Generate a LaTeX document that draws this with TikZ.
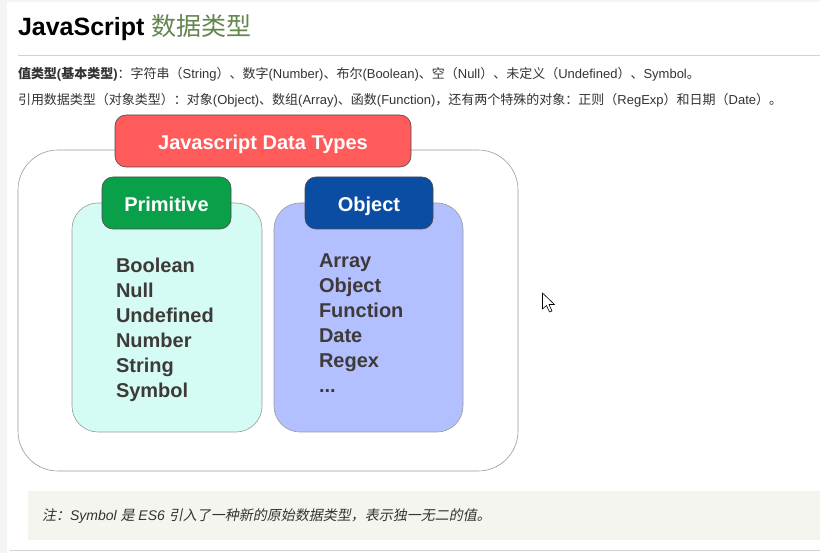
\documentclass[tikz,border=0pt]{standalone}
\usepackage{fontspec}
\setmainfont{Liberation Sans}
\newfontfamily\cjk{Noto Sans CJK SC}[AutoFakeSlant=0.2]
\newcommand\C[1]{{\cjk #1}}
\definecolor{stripc}{HTML}{F4F4F4}
\definecolor{rulec}{HTML}{D2D2D2}
\definecolor{titleg}{HTML}{62864E}
\definecolor{bodyc}{HTML}{333333}
\definecolor{redc}{HTML}{FF5B5B}
\definecolor{greenc}{HTML}{0A9F49}
\definecolor{bluec}{HTML}{0B4DA2}
\definecolor{cyanc}{HTML}{D5FCF4}
\definecolor{lavc}{HTML}{B2C0FF}
\definecolor{itemc}{HTML}{3F3A3A}
\definecolor{notec}{HTML}{F3F5EE}
\definecolor{boxline}{HTML}{9A9A9A}
\begin{document}
\begin{tikzpicture}[x=1pt,y=-1pt,
  txt/.style={anchor=base west,inner sep=0pt,outer sep=0pt},
  bodytxt/.style={txt,text=bodyc,font=\fontsize{13}{16}\selectfont},
  hdrbox/.style={draw=black!70,line width=0.6pt,rounded corners=11pt,inner sep=0pt,
    text height=16.4pt,text depth=0pt,
    text=white,font=\fontsize{20}{24}\selectfont\bfseries},
  listbox/.style={draw=boxline,line width=0.6pt,rounded corners=26pt,inner sep=0pt,
    minimum height=229pt},
  item/.style={txt,text=itemc,font=\fontsize{20}{24}\selectfont\bfseries}]
\useasboundingbox (0,0) rectangle (820,553);
\fill[white] (0,0) rectangle (820,553);
\fill[stripc] (0,0) rectangle (7,553);
\fill[stripc] (0,0) rectangle (820,2);
% title
\node[txt,font=\fontsize{25}{30}\selectfont] (title) at (18,36)
  {\textbf{JavaScript} \textcolor{titleg}{\C{数据类型}}};
\coordinate (r1a) at (18,56); \coordinate (r1b) at (820,56);
\draw[rulec,line width=1pt] (r1a) -- (r1b);
% body lines
\node[bodytxt] (line1) at (18,79)
  {\textbf{\C{值类型}(\C{基本类型})}\C{：字符串（}String\C{）、数字}(Number)\C{、布尔}(Boolean)\C{、空（}Null\C{）、未定义（}Undefined\C{）、}Symbol\C{。}};
\node[bodytxt] (line2) at (18,105)
  {\C{引用数据类型（对象类型）：对象}(Object)\C{、数组}(Array)\C{、函数}(Function)\C{，还有两个特殊的对象：正则（}RegExp\C{）和日期（}Date\C{）。}};
% diagram
\node[draw=boxline,line width=0.6pt,rounded corners=40pt,minimum width=500pt,minimum height=321pt,inner sep=0pt] (outer) at (268,310.5) {};
\node[hdrbox,fill=redc,minimum width=296pt,minimum height=52pt] (jdt) at (263,141) {Javascript Data Types};
\node[listbox,fill=cyanc,minimum width=190pt] (primbox) at (167,317.5) {};
\node[listbox,fill=lavc,minimum width=189pt] (objbox) at (368.5,317.5) {};
\node[hdrbox,fill=greenc,minimum width=129pt,minimum height=52pt] (prim) at (166.5,203) {Primitive};
\node[hdrbox,fill=bluec,minimum width=128pt,minimum height=52pt] (obj) at (369,203) {Object};
\node[item] (p0) at (116,273) {Boolean};
\node[item] (p1) at (116,298) {Null};
\node[item] (p2) at (116,323) {Undefined};
\node[item] (p3) at (116,348) {Number};
\node[item] (p4) at (116,373) {String};
\node[item] (p5) at (116,398) {Symbol};
\node[item] (o0) at (319,268) {Array};
\node[item] (o1) at (319,293) {Object};
\node[item] (o2) at (319,318) {Function};
\node[item] (o3) at (319,343) {Date};
\node[item] (o4) at (319,368) {Regex};
\node[item] (o5) at (319,393) {...};
% cursor
\draw[black,fill=white,line width=0.6pt,line join=round]
  (542.5,293) -- (542.5,309) -- (546.5,305.5) -- (549.5,312) -- (552,311) -- (549,304.5) -- (554.5,304.5) -- cycle;
% note
\fill[notec] (28,491) rectangle (820,540);
\node[bodytxt,font=\fontsize{14}{17}\selectfont\itshape] (note) at (42,520)
  {\C{注：}Symbol \C{是} ES6 \C{引入了一种新的原始数据类型，表示独一无二的值。}};
\coordinate (r2a) at (10,550); \coordinate (r2b) at (820,550);
\draw[rulec,line width=1pt] (r2a) -- (r2b);
\end{tikzpicture}
\end{document}
